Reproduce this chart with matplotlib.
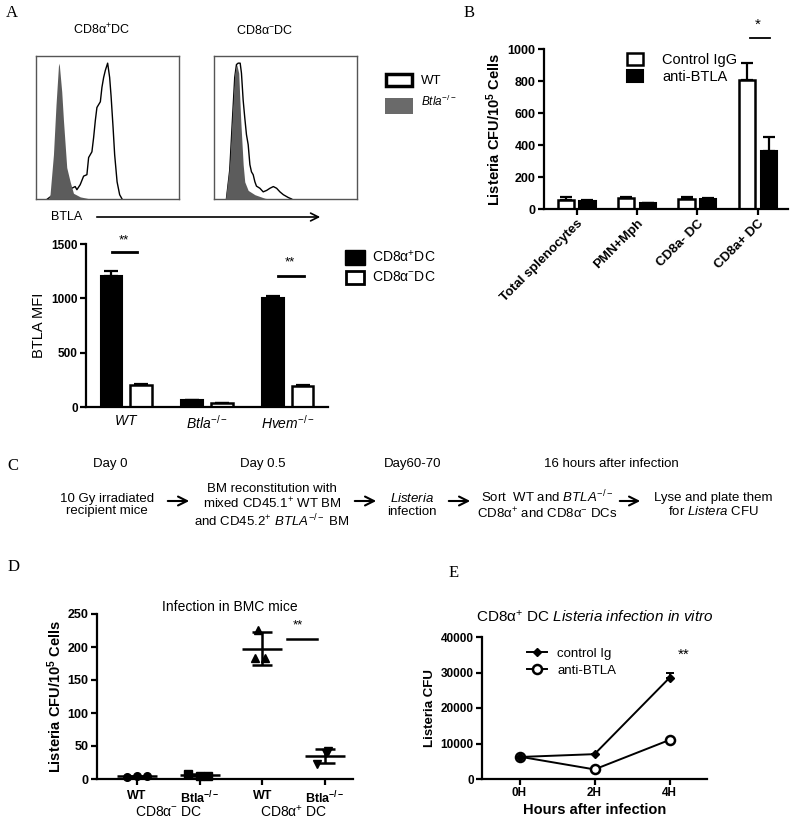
import matplotlib
matplotlib.use('Agg')
import matplotlib.pyplot as plt
import numpy as np
from matplotlib.patches import Rectangle, FancyArrowPatch, Patch
from matplotlib.lines import Line2D

plt.rcParams['font.family'] = ['Liberation Sans', 'DejaVu Sans']
plt.rcParams['mathtext.fontset'] = 'custom'
plt.rcParams['mathtext.rm'] = 'Liberation Sans'
plt.rcParams['mathtext.it'] = 'Liberation Sans:italic'
plt.rcParams['mathtext.bf'] = 'Liberation Sans:bold'
plt.rcParams['mathtext.sf'] = 'Liberation Sans'

# ---------------- data ----------------
# Panel A histograms (BTLA channel 0-100, normalized counts)
histA_pos_wt_x = [8, 12, 16, 20, 24, 25, 27.4, 28.6, 30.9, 33.3, 35.6, 36.8, 39.1, 40.3, 41.5,
                  42.6, 45, 46.1, 47.3, 48.5, 50.1, 51.5, 52.5, 53.9, 55, 56.7, 58.5, 60.2]
histA_pos_wt_y = [0, 0.03, 0.05, 0.07, 0.08, 0.075, 0.087, 0.065, 0.1, 0.16, 0.17, 0.29, 0.33, 0.43,
                  0.55, 0.64, 0.68, 0.78, 0.85, 0.9, 0.95, 0.85, 0.72, 0.5, 0.31, 0.12, 0.03, 0]
histA_pos_ko_x = [8.7, 9.8, 12.2, 14, 15.7, 16.2, 18, 19.2, 21.5, 23.9, 26.2, 30.9, 38]
histA_pos_ko_y = [0, 0.03, 0.31, 0.66, 0.93, 0.95, 0.75, 0.55, 0.22, 0.12, 0.04, 0.015, 0]
histA_neg_wt_x = [8.7, 11, 12.6, 14.5, 15.7, 16.9, 18.3, 19.2, 20.4, 21.5, 22.7, 23.9, 25.1, 26.2,
                  27.4, 28.6, 29.7, 32.1, 34.4, 36.8, 39.1, 41.5, 43.8, 46.1, 48.5, 52, 54.3]
histA_neg_wt_y = [0, 0.2, 0.5, 0.85, 0.94, 0.95, 0.95, 0.88, 0.69, 0.57, 0.45, 0.38, 0.24, 0.19,
                  0.17, 0.12, 0.09, 0.075, 0.05, 0.06, 0.075, 0.087, 0.075, 0.05, 0.03, 0.01, 0]
histA_neg_ko_x = [8, 11, 12.6, 14.5, 15.9, 17.3, 18.7, 20.4, 21.5, 23.9, 28.6, 35.6, 39.1]
histA_neg_ko_y = [0, 0.24, 0.55, 0.88, 0.94, 0.88, 0.55, 0.24, 0.12, 0.06, 0.03, 0.005, 0]

# Panel A bar chart
a_groups = ['$\\mathit{WT}$', '$\\mathit{Btla}^{-/-}$', '$\\mathit{Hvem}^{-/-}$']
a_pos_mean = [1210, 60, 1000]
a_pos_err = [40, 0, 25]
a_neg_mean = [200, 40, 195]
a_neg_err = [12, 0, 6]

# Panel B
b_cats = ['Total splenocytes', 'PMN+Mph', 'CD8a- DC', 'CD8a+ DC']
b_ctrl = [55, 68, 63, 805]
b_ctrl_err = [20, 10, 15, 110]
b_anti = [50, 40, 65, 360]
b_anti_err = [8, 0, 5, 90]

# Panel D
d_labels = ['WT', '$\\mathbf{Btla}^{\\mathbf{-/-}}$', 'WT', '$\\mathbf{Btla}^{\\mathbf{-/-}}$']
d_wt_neg = [3.5, 4, 4.5]
d_ko_neg = [8, 5, 5]
d_wt_pos = [226, 183, 183]
d_ko_pos = [43, 40, 23]

# Panel E
e_times = ['0H', '2H', '4H']
e_ctrl = [6200, 7000, 28500]
e_ctrl_err = [0, 0, 1500]
e_anti = [6300, 2700, 11000]

# ---------------- layout helpers ----------------
W, H = 795, 824
fig = plt.figure(figsize=(7.95, 8.24), dpi=100)


def rect(l, t, r, b):
    return [l / W, 1 - b / H, (r - l) / W, (b - t) / H]


def ftext(x, y, s, **kw):
    kw.setdefault('ha', 'center')
    kw.setdefault('va', 'center')
    fig.text(x / W, 1 - y / H, s, **kw)


def farrow(x1, x2, y, lw=1.3, ms=16):
    fig.add_artist(FancyArrowPatch((x1 / W, 1 - y / H), (x2 / W, 1 - y / H),
                                   transform=fig.transFigure, arrowstyle='->',
                                   mutation_scale=ms, lw=lw, color='black'))


def prism(ax, lw=1.6):
    for s in ['top', 'right']:
        ax.spines[s].set_visible(False)
    for s in ['left', 'bottom']:
        ax.spines[s].set_linewidth(lw)
    ax.tick_params(direction='out', width=lw, length=4, pad=2)


letter_kw = dict(family='Liberation Serif', fontsize=12, ha='center', va='center')
ftext(12, 13, 'A', **letter_kw)
ftext(469, 13, 'B', **letter_kw)
ftext(13, 466, 'C', **letter_kw)
ftext(14, 567, 'D', **letter_kw)
ftext(454, 573, 'E', **letter_kw)

# ---------------- Panel A histograms ----------------
for (l, r), wx, wy, kx, ky in [((36, 179), histA_pos_wt_x, histA_pos_wt_y, histA_pos_ko_x, histA_pos_ko_y),
                                ((214, 357), histA_neg_wt_x, histA_neg_wt_y, histA_neg_ko_x, histA_neg_ko_y)]:
    ax = fig.add_axes(rect(l, 56, r, 199))
    ax.plot(wx, wy, color='black', lw=1.0, zorder=2)
    ax.fill_between(kx, ky, 0, color='#5c5c5c', lw=0, zorder=3)
    ax.set_xlim(0, 100)
    ax.set_ylim(0, 1.0)
    ax.set_xticks([])
    ax.set_yticks([])
    for s in ax.spines.values():
        s.set_color('#555555')
        s.set_linewidth(1.0)

ftext(102, 30, 'CD8α$^{+}$DC', fontsize=9)
ftext(265, 30, 'CD8α$^{-}$DC', fontsize=9)

fig.add_artist(Rectangle((386 / W, 1 - 86 / H), 26 / W, 12 / H, transform=fig.transFigure,
                         facecolor='white', edgecolor='black', lw=2.5))
fig.add_artist(Rectangle((385 / W, 1 - 114 / H), 28 / W, 16 / H, transform=fig.transFigure,
                         facecolor='#6a6a6a', edgecolor='none'))
ftext(421, 81, 'WT', fontsize=9.5, ha='left')
ftext(421, 101, '$\\mathit{Btla}^{-/-}$', fontsize=8.5, ha='left')

ftext(67, 217, 'BTLA', fontsize=9)
farrow(94, 323, 217, lw=1.2, ms=14)

# ---------------- Panel A bar chart ----------------
ax = fig.add_axes(rect(86, 244, 328, 407))
x = np.arange(len(a_groups))
off, bw = 0.184, 0.27
ax.bar(x - off, a_pos_mean, bw, color='black', edgecolor='black', lw=1.5, zorder=2)
ax.bar(x + off, a_neg_mean, bw, color='white', edgecolor='black', lw=1.8, zorder=2)
ax.errorbar(x - off, a_pos_mean, yerr=[[0] * 3, a_pos_err], fmt='none', ecolor='black',
            elinewidth=1.6, capsize=5, capthick=1.6, zorder=1)
ax.errorbar(x + off, a_neg_mean, yerr=[[0] * 3, a_neg_err], fmt='none', ecolor='black',
            elinewidth=1.6, capsize=5, capthick=1.6, zorder=1)
ax.set_xlim(-0.5, 2.5)
ax.set_ylim(0, 1500)
ax.set_yticks([0, 500, 1000, 1500])
ax.set_xticks(x)
ax.set_xticklabels(a_groups, fontsize=10)
prism(ax)
ax.tick_params(axis='x', length=0, pad=5)
for t in ax.get_yticklabels():
    t.set_fontweight('bold')
    t.set_fontsize(8.5)
ax.set_ylabel('BTLA MFI', fontsize=10.5, labelpad=4)
ax.plot([-0.18, 0.13], [1425, 1425], color='black', lw=2, clip_on=False)
ax.text(-0.03, 1530, '**', ha='center', va='center', fontsize=9.5, clip_on=False)
ax.plot([1.88, 2.2], [1204, 1204], color='black', lw=2, clip_on=False)
ax.text(2.03, 1330, '**', ha='center', va='center', fontsize=9.5, clip_on=False)

fig.add_artist(Rectangle((345 / W, 1 - 265 / H), 20 / W, 15 / H, transform=fig.transFigure,
                         facecolor='black', edgecolor='black', lw=1))
fig.add_artist(Rectangle((346 / W, 1 - 284 / H), 18 / W, 13 / H, transform=fig.transFigure,
                         facecolor='white', edgecolor='black', lw=2))
ftext(372, 257, 'CD8α$^{+}$DC', fontsize=10, ha='left')
ftext(372, 277, 'CD8α$^{-}$DC', fontsize=10, ha='left')

# ---------------- Panel B ----------------
ax = fig.add_axes(rect(544, 49, 788, 209))
x = np.arange(len(b_cats))
off, bw = 0.18, 0.27
ax.bar(x - off, b_ctrl, bw, color='white', edgecolor='black', lw=1.8, zorder=2, label='Control IgG')
ax.bar(x + off, b_anti, bw, color='black', edgecolor='black', lw=1.5, zorder=2, label='anti-BTLA')
ax.errorbar(x - off, b_ctrl, yerr=[[0] * 4, b_ctrl_err], fmt='none', ecolor='black',
            elinewidth=1.6, capsize=4, capthick=1.6, zorder=1)
ax.errorbar(x + off, b_anti, yerr=[[0] * 4, b_anti_err], fmt='none', ecolor='black',
            elinewidth=1.6, capsize=4, capthick=1.6, zorder=1)
ax.set_xlim(-0.54, 3.5)
ax.set_ylim(0, 1000)
ax.set_yticks([0, 200, 400, 600, 800, 1000])
ax.set_xticks(x)
ax.set_xticklabels(b_cats, rotation=45, ha='right', rotation_mode='anchor',
                   fontsize=9.5, fontweight='bold')
prism(ax)
for t in ax.get_yticklabels():
    t.set_fontweight('bold')
    t.set_fontsize(9)
ax.set_ylabel('Listeria CFU/10$^{\\mathbf{5}}$ Cells', fontsize=10.5, fontweight='bold', labelpad=3)
ax.plot([2.87, 3.21], [1069, 1069], color='black', lw=1.3, clip_on=False)
ax.text(3.0, 1150, '*', ha='center', va='center', fontsize=11, clip_on=False)
leg = ax.legend(loc='upper left', bbox_to_anchor=(0.31, 1.02), frameon=False, fontsize=10.5,
                handlelength=1.1, handleheight=0.9, handletextpad=1.3, labelspacing=0.2,
                borderpad=0)

# ---------------- Panel C ----------------
fs_c = 9.5
ftext(110, 464, 'Day 0', fontsize=fs_c)
ftext(263, 464, 'Day 0.5', fontsize=fs_c)
ftext(413, 464, 'Day60-70', fontsize=fs_c)
ftext(611, 464, '16 hours after infection', fontsize=fs_c)
ftext(107, 505, '10 Gy irradiated\nrecipient mice', fontsize=fs_c, linespacing=1.1)
ftext(272, 506, 'BM reconstitution with\nmixed CD45.1$^{+}$ WT BM\nand CD45.2$^{+}$ $\\mathit{BTLA}^{-/-}$ BM',
      fontsize=fs_c, linespacing=1.1)
ftext(412, 505, '$\\mathit{Listeria}$\ninfection', fontsize=fs_c, linespacing=1.1)
ftext(547, 505, 'Sort  WT and $\\mathit{BTLA}^{-/-}$\nCD8α$^{+}$ and CD8α$^{-}$ DCs', fontsize=fs_c,
      linespacing=1.1)
ftext(713, 505, 'Lyse and plate them\nfor $\\mathit{Listera}$ CFU', fontsize=fs_c, linespacing=1.1)
for x1, x2 in [(165, 192), (352, 379), (446, 473), (617, 643)]:
    farrow(x1, x2, 501, lw=1.5, ms=16)

# ---------------- Panel D ----------------
ax = fig.add_axes(rect(97, 614, 353, 779))
groups_d = [d_wt_neg, d_ko_neg, d_wt_pos, d_ko_pos]
markers_d = ['o', 's', '^', 'v']
offsets_d = [[-0.16, 0.0, 0.16], [-0.19, 0.0, 0.13], [-0.06, -0.11, 0.05], [0.05, 0.02, -0.12]]
for i, (vals, mk, offs) in enumerate(zip(groups_d, markers_d, offsets_d)):
    vals = np.array(vals, dtype=float)
    ax.plot(np.array(offs) + i, vals, linestyle='none', marker=mk, color='black', ms=5.5, zorder=3,
            clip_on=False)
    m, sd = vals.mean(), vals.std(ddof=1)
    ax.plot([i - 0.32, i + 0.32], [m, m], color='black', lw=1.8, zorder=2, solid_capstyle='butt')
    ax.errorbar([i], [m], yerr=[sd], fmt='none', ecolor='black', elinewidth=1.8, capsize=7,
                capthick=1.8, zorder=2)
ax.set_xlim(-0.64, 3.45)
ax.set_ylim(0, 250)
ax.set_yticks([0, 50, 100, 150, 200, 250])
ax.set_xticks(range(4))
ax.set_xticklabels(d_labels, fontsize=9, fontweight='bold')
prism(ax)
ax.tick_params(axis='x', pad=4)
for t in ax.get_yticklabels():
    t.set_fontweight('bold')
    t.set_fontsize(9)
ax.set_ylabel('Listeria CFU/10$^{\\mathbf{5}}$ Cells', fontsize=10.5, fontweight='bold', labelpad=3)
ax.text(0.52, 1.0, 'Infection in BMC mice', transform=ax.transAxes, ha='center', va='bottom',
        fontsize=10)
ax.plot([2.4, 2.88], [212, 212], color='black', lw=1.8)
ax.text(2.57, 232, '**', ha='center', va='center', fontsize=9.5)
ax.text(0.5, -0.2, 'CD8α$^{-}$ DC', transform=ax.get_xaxis_transform(), ha='center', va='center',
        fontsize=10)
ax.text(2.5, -0.2, 'CD8α$^{+}$ DC', transform=ax.get_xaxis_transform(), ha='center', va='center',
        fontsize=10)

# ---------------- Panel E ----------------
ax = fig.add_axes(rect(482, 637, 707, 779))
x = np.arange(len(e_times))
ax.errorbar(x, e_ctrl, yerr=[[0] * 3, e_ctrl_err], color='black', lw=1.4, marker='D', ms=4,
            capsize=3, elinewidth=1.4, capthick=1.4, zorder=3)
ax.plot(x, e_anti, color='black', lw=1.4, marker='o', ms=6.5, mfc='white', mew=1.8, zorder=2)
ax.set_xlim(-0.5, 2.5)
ax.set_ylim(0, 40000)
ax.set_yticks([0, 10000, 20000, 30000, 40000])
ax.set_xticks(x)
ax.set_xticklabels(e_times, fontsize=8.5, fontweight='bold')
prism(ax)
for t in ax.get_yticklabels():
    t.set_fontweight('bold')
    t.set_fontsize(8.5)
ax.set_ylabel('Listeria CFU', fontsize=9.5, fontweight='bold', labelpad=3)
ax.set_xlabel('Hours after infection', fontsize=10.5, fontweight='bold', labelpad=3)
ax.set_title('CD8α$^{+}$ DC $\\mathit{Listeria\\ infection\\ in\\ vitro}$', fontsize=11, pad=11)
ax.text(2.19, 35000, '**', ha='center', va='center', fontsize=11)
e_handles = [Line2D([], [], color='black', lw=1.4, marker='D', ms=4),
             Line2D([], [], color='black', lw=1.4, marker='o', ms=6.5, mfc='white', mew=1.8)]
ax.legend(e_handles, ['control Ig', 'anti-BTLA'], loc='upper left', bbox_to_anchor=(0.17, 0.97),
          frameon=False, fontsize=9.5, handlelength=1.5, handletextpad=0.8, labelspacing=0.35,
          borderpad=0)

fig.savefig('out.png', dpi=100)
